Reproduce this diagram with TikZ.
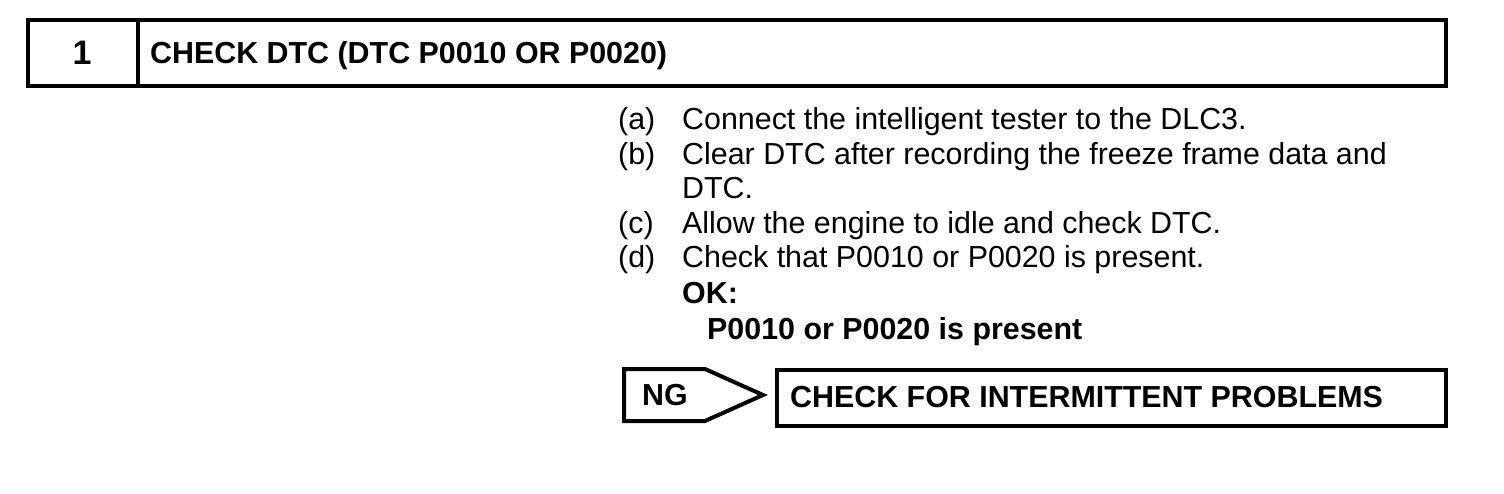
\documentclass[tikz,border=0pt]{standalone}
\usepackage{fontspec}
\setmainfont{Liberation Sans}
\usepackage{tikz}

\tikzset{
  txt/.style={anchor=base west,inner sep=0pt,font=\fontsize{30.4}{35}\selectfont},
  btxt/.style={txt,font=\bfseries\fontsize{30.4}{35}\selectfont},
}

\begin{document}
\begin{tikzpicture}[x=1pt,y=-1pt]
\useasboundingbox (0,0) rectangle (1504,494);
% title bar
\draw[line width=4.5pt] (28,20) rectangle (1446,86);
\draw[line width=3.5pt] (138,20) -- (138,86);
\node[btxt,anchor=base,font=\bfseries\fontsize{34}{40}\selectfont] (num) at (82,65) {1};
\node[btxt] (title) at (150,64) {CHECK DTC (DTC P0010 OR P0020)};
% steps
\foreach \l/\t/\y in {a/Connect the intelligent tester to the DLC3./130,
	b/Clear DTC after recording the freeze frame data and/164.5,
	c/Allow the engine to idle and check DTC./233.5,
	d/Check that P0010 or P0020 is present./268}
{
	\node[txt] (lab-\l) at (618,\y) {(\l)};
	\node[txt] (step-\l) at (682,\y) {\t};
}
\node[txt] (step-b2) at (682,199) {DTC.};
\node[btxt] (ok) at (682,303) {OK:};
\node[btxt] (okval) at (707,339) {P0010 or P0020 is present};
% NG branch
\draw[line width=4pt] (624,369) -- (705,369) -- (763,395) -- (705,421) -- (624,421) -- cycle;
\node[btxt,anchor=center] (ng) at (665,395) {NG};
\draw[line width=4.5pt] (777,370) rectangle (1446,426);
\node[btxt] (next) at (790,407) {CHECK FOR INTERMITTENT PROBLEMS};
\end{tikzpicture}
\end{document}
